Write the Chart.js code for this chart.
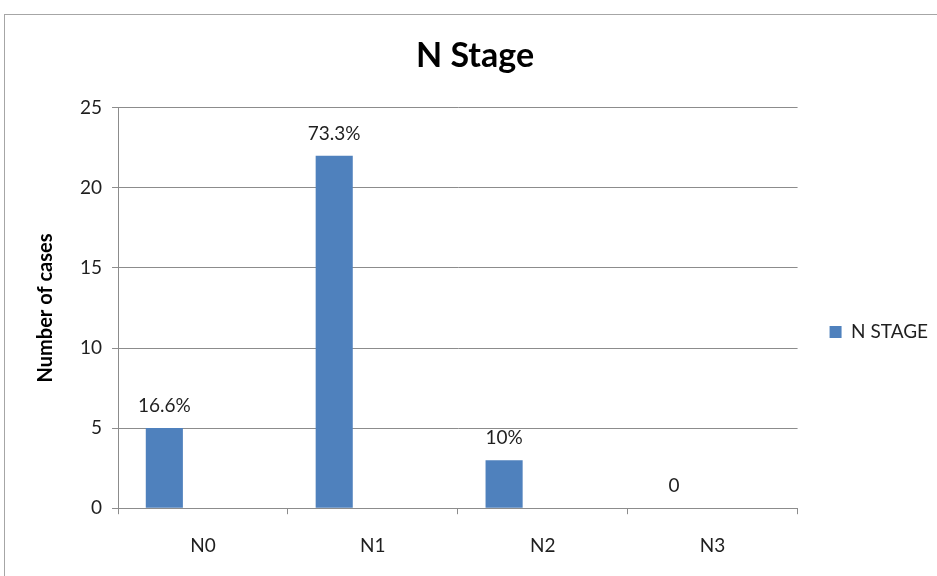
<!DOCTYPE html>
<html>
<head>
  <title>N Stage</title>
  <script src="https://cdn.jsdelivr.net/npm/chart.js"></script>
  <style>
    body {
        margin: 0;
        background: #ffffff;
    }
    .frame {
        position: absolute;
        left: 4px;
        top: 14px;
        width: 933px;
        height: 562px;
        border-top: 1px solid #a6a6a6;
        border-left: 1px solid #a6a6a6;
    }
    canvas {
        display: block;
    }
  </style>
</head>
<body>
<div class="frame">
  <canvas id="stageChart" width="933" height="562"></canvas>
</div>

<script>
  // values
  const categories = ['N0', 'N1', 'N2', 'N3'];
  const cases = [5, 22, 3, 0];
  const percentLabels = ['16.6%', '73.3%', '10%', '0'];
  const emptySeries = [null, null, null, null];
  const yTicks = [0, 5, 10, 15, 20, 25];

  const barBlue = '#4f81bd';
  const gridGray = '#8c8c8c';
  const textColor = '#1f1f1f';
  const fontFamily = "Lato, 'Liberation Sans', sans-serif";

  // labels above each bar
  const barLabels = {
      id: 'barLabels',
      afterDatasetsDraw(chart) {
          const ctx = chart.ctx;
          const meta = chart.getDatasetMeta(0);
          ctx.save();
          ctx.font = '19px ' + fontFamily;
          ctx.fillStyle = textColor;
          ctx.textAlign = 'center';
          ctx.textBaseline = 'middle';
          meta.data.forEach((bar, i) => {
              ctx.fillText(percentLabels[i], bar.x, bar.y - 22);
          });
          ctx.restore();
      }
  };

  // nudge the legend down and right, like the original
  const legendShift = {
      id: 'legendShift',
      afterLayout(chart) {
          chart.legend.top += 36;
          chart.legend.bottom += 36;
          chart.legend.left += 22;
          chart.legend.right += 22;
      }
  };

  new Chart(document.getElementById('stageChart'), {
      type: 'bar',
      data: {
          labels: categories,
          datasets: [{
              label: 'N STAGE',
              data: cases,
              backgroundColor: barBlue,
              borderWidth: 0,
              barPercentage: 0.48,
              categoryPercentage: 0.91
          }, {
              label: '',
              data: emptySeries,
              backgroundColor: 'rgba(0,0,0,0)',
              barPercentage: 0.48,
              categoryPercentage: 0.91
          }]
      },
      options: {
          responsive: false,
          animation: false,
          layout: {
              padding: { left: 29, right: 22, bottom: 0 }
          },
          plugins: {
              title: {
                  display: true,
                  text: 'N Stage',
                  color: '#000000',
                  font: { family: fontFamily, size: 34, weight: 'bold' },
                  padding: { top: 21, bottom: 31 }
              },
              legend: {
                  position: 'right',
                  labels: {
                      filter: item => item.datasetIndex === 0,
                      boxWidth: 12,
                      boxHeight: 12,
                      color: textColor,
                      padding: 10,
                      font: { family: fontFamily, size: 19 }
                  }
              },
              tooltip: { enabled: false }
          },
          scales: {
              x: {
                  grid: {
                      offset: true,
                      drawOnChartArea: false,
                      drawTicks: true,
                      tickLength: 6,
                      color: gridGray
                  },
                  border: { color: gridGray },
                  ticks: {
                      color: textColor,
                      padding: 20,
                      font: { family: fontFamily, size: 19 }
                  }
              },
              y: {
                  min: 0,
                  max: 25,
                  afterBuildTicks: axis => {
                      axis.ticks = yTicks.map(v => ({ value: v }));
                  },
                  grid: {
                      color: gridGray,
                      tickLength: 6
                  },
                  border: { color: gridGray },
                  ticks: {
                      color: textColor,
                      padding: 10,
                      font: { family: fontFamily, size: 19 }
                  },
                  title: {
                      display: true,
                      text: 'Number of cases',
                      color: '#000000',
                      font: { family: fontFamily, size: 20, weight: 'bold' },
                      padding: { top: 0, bottom: 12 }
                  }
              }
          }
      },
      plugins: [barLabels, legendShift]
  });
</script>
</body>
</html>
